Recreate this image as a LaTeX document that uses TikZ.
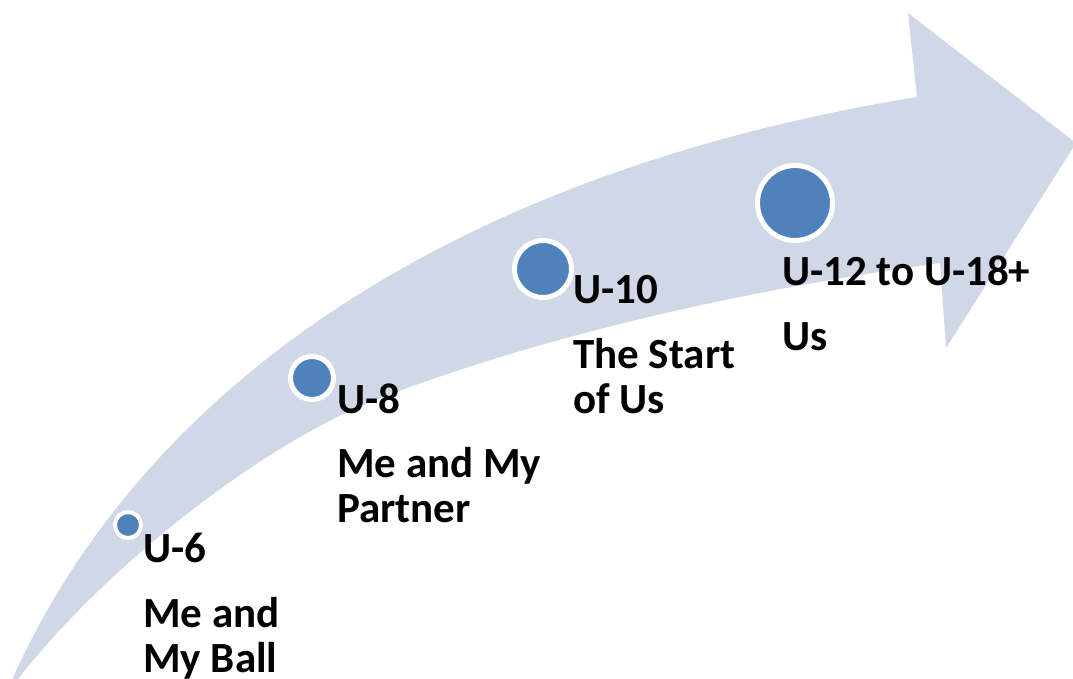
\documentclass[tikz,border=0pt]{standalone}
\usepackage{fontspec}
\setmainfont{Carlito}
\usetikzlibrary{positioning}
\definecolor{bandblue}{HTML}{D0D8E8}
\definecolor{dotblue}{HTML}{4F81BD}
\tikzset{
  stagedot/.style={circle, fill=dotblue, draw=white, line width=5pt, inner sep=0pt, minimum size=#1},
  agetitle/.style={anchor=base west, inner sep=0pt, font=\fontsize{43}{45}\selectfont\bfseries},
  agetext/.style={agetitle, align=left}
}
\begin{document}
\begin{tikzpicture}[x=1pt, y=-1pt]
\useasboundingbox (0,0) rectangle (1073,678);
\clip (0,0) rectangle (1073,678);
% curved arrow
\fill[bandblue] (4,698) .. controls (140,375) and (470,170) .. (917,97)
  -- (908,13) -- (1076,143) -- (946,348) -- (940,263)
  .. controls (760,288) and (560,330) .. (383,397)
  .. controls (250,447) and (80,590) .. (4,698) -- cycle;
% stages
\node[stagedot=26pt, line width=4pt] (d6) at (128,525) {};
\node[stagedot=43pt] (d8) at (312,378) {};
\node[stagedot=57pt] (d10) at (543,269) {};
\node[stagedot=75pt] (d12) at (795,203) {};
% labels (base of a two-line text is its last line)
\node[agetitle] (t6) at (143,562) {U-6};
\node[agetext, below=110pt of t6.base west, anchor=base west] (b6) {Me and\\My Ball};
\node[agetitle] (t8) at (337,413) {U-8};
\node[agetext, below=109pt of t8.base west, anchor=base west] (b8) {Me and My\\Partner};
\node[agetitle] (t10) at (573,303) {U-10};
\node[agetext, below=110pt of t10.base west, anchor=base west] (b10) {The Start\\of Us};
\node[agetitle] (t12) at (782,285) {U-12 to U-18+};
\node[agetext, below=65pt of t12.base west, anchor=base west] (b12) {Us};
\end{tikzpicture}
\end{document}
